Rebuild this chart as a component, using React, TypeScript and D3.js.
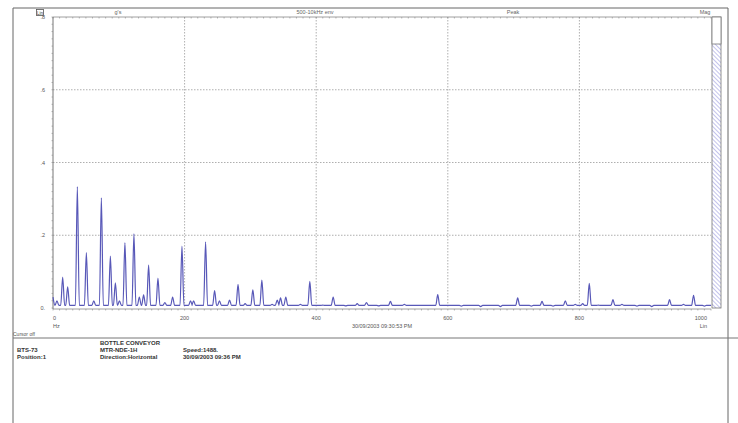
import React from "react";
import * as d3 from "d3";

// spectrum peaks: frequency (Hz) and amplitude (g's)
const peakFreqs = [
  0, 6, 14.7, 22.3, 37, 50.7, 62, 73.5, 87.2, 94.8, 101, 109.3, 123, 131.2, 137.7, 145.3,
  159.5, 170, 181.8, 196, 209, 213.7, 231.9, 245.6, 253, 268.3, 281.2, 292, 303.7, 317.4,
  333, 340.8, 345.8, 353.8, 376, 390.3, 410, 425.8, 445, 462.3, 476.4, 495, 512.8, 534,
  547.8, 584.7, 620.6, 650, 680, 706.2, 727, 743.2, 760, 778.6, 793.7, 805, 815, 828.7,
  851, 864.7, 887.5, 910, 937, 958.2, 973.5, 990
];
const peakValues = [
  0.03, 0.02, 0.085, 0.058, 0.334, 0.152, 0.02, 0.303, 0.143, 0.069, 0.02, 0.18, 0.204, 0.03, 0.036, 0.118,
  0.082, 0.015, 0.03, 0.17, 0.02, 0.02, 0.182, 0.048, 0.02, 0.022, 0.065, 0.012, 0.05, 0.077,
  0.01, 0.022, 0.028, 0.03, 0.01, 0.073, 0.008, 0.03, 0.006, 0.012, 0.015, 0.006, 0.018, 0.01,
  0.007, 0.037, 0.005, 0.004, 0.004, 0.028, 0.005, 0.018, 0.005, 0.02, 0.01, 0.012, 0.068, 0.008,
  0.023, 0.01, 0.005, 0.004, 0.023, 0.01, 0.035, 0.005
];
const noiseFloor = 0.007;
const peakHalfWidth = 3;

const xTicks = [0, 200, 400, 600, 800, 1000];
const xTickLabels = ["0", "200", "400", "600", "800", "1000"];
const yTicks = [0.8, 0.6, 0.4, 0.2, 0];
const yTickLabels = [".8", ".6", ".4", ".2", "0."];

const headerLabels = ["g's", "500-10kHz env", "Peak", "Mag"];
const headerX = [118, 315, 513, 705];

const infoCol1 = ["", "BTS-73", "Position:1"];
const infoCol2 = ["BOTTLE CONVEYOR", "MTR-NDE-1H", "Direction:Horizontal"];
const infoCol3 = ["", "Speed:1488.", "30/09/2003 09:36 PM"];

const W = 738;
const H = 423;
const plot = { left: 53, right: 711, top: 17, bottom: 308 };

export default function App() {
  const x = d3.scaleLinear().domain([0, 1000]).range([plot.left, plot.right]);
  const y = d3.scaleLinear().domain([0, 0.8]).range([plot.bottom, plot.top]);

  const pts: [number, number][] = [];
  peakFreqs.forEach((f, i) => {
    const v = peakValues[i];
    if (f === 0) {
      pts.push([0, v]);
      return;
    }
    pts.push([f - peakHalfWidth, noiseFloor]);
    pts.push([f, v]);
    pts.push([f + peakHalfWidth, noiseFloor]);
  });
  pts.push([1000, noiseFloor]);

  const line = d3
    .line<[number, number]>()
    .x((d) => x(d[0]))
    .y((d) => y(d[1]))
    .curve(d3.curveMonotoneX);

  const minorX = x.ticks(100);
  const minorY = y.ticks(40);
  const font = "'Liberation Sans', Arial, sans-serif";
  const grid = "#9a9a9a";

  return (
    <svg width={W} height={H} style={{ position: "absolute", left: 0, top: 0 }}>
      <defs>
        <pattern id="hatch" width="3" height="3" patternUnits="userSpaceOnUse" patternTransform="rotate(-45)">
          <line x1="0" y1="0" x2="0" y2="3" stroke="#9a9ae0" strokeWidth="1.2" />
        </pattern>
      </defs>
      <rect x={0} y={0} width={W} height={H} fill="#fff" />

      {/* outer frame */}
      <line x1={13} x2={728} y1={8} y2={8} stroke="#666" />
      <line x1={13} x2={13} y1={8} y2={H} stroke="#666" />
      <line x1={728} x2={728} y1={8} y2={H} stroke="#666" />
      <line x1={13} x2={W} y1={338} y2={338} stroke="#777" />

      {/* header */}
      <rect x={36.5} y={9.5} width={7} height={6} fill="none" stroke="#555" strokeWidth={0.8} />
      <text x={40} y={14.5} fontSize={4.5} fontFamily={font} textAnchor="middle" fill="#444">Lin</text>
      {headerLabels.map((t, i) => (
        <text key={t} x={headerX[i]} y={14} fontSize={5.5} fontFamily={font} textAnchor="middle" fill="#666">
          {t}
        </text>
      ))}

      {/* grid */}
      {xTicks.slice(1, -1).map((t) => (
        <line key={t} x1={x(t)} x2={x(t)} y1={plot.top} y2={plot.bottom} stroke={grid} strokeDasharray="1.5,1.5" strokeWidth={0.8} />
      ))}
      {yTicks.slice(1, -1).map((t) => (
        <line key={t} x1={plot.left} x2={plot.right} y1={y(t)} y2={y(t)} stroke={grid} strokeDasharray="1.5,1.5" strokeWidth={0.8} />
      ))}

      {/* axes with minor ticks */}
      <line x1={plot.left} x2={plot.right} y1={plot.top} y2={plot.top} stroke="#888" strokeWidth={0.8} />
      {minorX.map((t) => (
        <line key={"tt" + t} x1={x(t)} x2={x(t)} y1={plot.top} y2={plot.top + 1.5} stroke="#888" strokeWidth={0.6} />
      ))}
      <line x1={plot.left} x2={plot.right} y1={plot.bottom + 1} y2={plot.bottom + 1} stroke="#888" strokeWidth={0.8} />
      {minorX.map((t) => (
        <line key={"bt" + t} x1={x(t)} x2={x(t)} y1={plot.bottom + 1} y2={plot.bottom + 2.5} stroke="#888" strokeWidth={0.6} />
      ))}
      <line x1={plot.left} x2={plot.left} y1={plot.top} y2={plot.bottom + 1} stroke="#777" strokeWidth={1} />
      {minorY.map((t) => (
        <line key={"lt" + t} x1={plot.left - 1.5} x2={plot.left} y1={y(t)} y2={y(t)} stroke="#888" strokeWidth={0.6} />
      ))}

      {/* tick labels */}
      {yTicks.map((t, i) => (
        <text key={t} x={45} y={y(t) + 2} fontSize={5.5} fontFamily={font} textAnchor="end" fill="#555">
          {yTickLabels[i]}
        </text>
      ))}
      {xTicks.map((t, i) => (
        <text
          key={t}
          x={i === 0 ? plot.left : i === xTicks.length - 1 ? 707 : x(t)}
          y={320}
          fontSize={5.5}
          fontFamily={font}
          textAnchor={i === 0 ? "start" : i === xTicks.length - 1 ? "end" : "middle"}
          fill="#555"
        >
          {xTickLabels[i]}
        </text>
      ))}
      <text x={plot.left} y={328} fontSize={5.5} fontFamily={font} fill="#555">Hz</text>
      <text x={707} y={328} fontSize={5.5} fontFamily={font} textAnchor="end" fill="#555">Lin</text>
      <text x={382} y={328} fontSize={5.5} fontFamily={font} textAnchor="middle" fill="#555">30/09/2003 09:30:53 PM</text>

      {/* spectrum */}
      <path d={line(pts) || ""} fill="none" stroke="#5858b8" strokeWidth={1.2} />

      {/* scroll bar */}
      <rect x={712} y={plot.top} width={9} height={plot.bottom - plot.top} fill="url(#hatch)" stroke="#777" strokeWidth={0.8} />
      <rect x={712} y={plot.top} width={9} height={27} fill="#fff" stroke="#777" strokeWidth={0.8} />

      {/* footer info */}
      <text x={13} y={336} fontSize={5} fontFamily={font} fill="#555">Cursor off</text>
      {[infoCol1, infoCol2, infoCol3].map((col, c) =>
        col.map((t, r) =>
          t ? (
            <text
              key={c + "-" + r}
              x={[17, 100, 183][c]}
              y={345 + r * 7}
              fontSize={6}
              fontWeight="bold"
              fontFamily={font}
              fill="#333"
            >
              {t}
            </text>
          ) : null
        )
      )}
    </svg>
  );
}
